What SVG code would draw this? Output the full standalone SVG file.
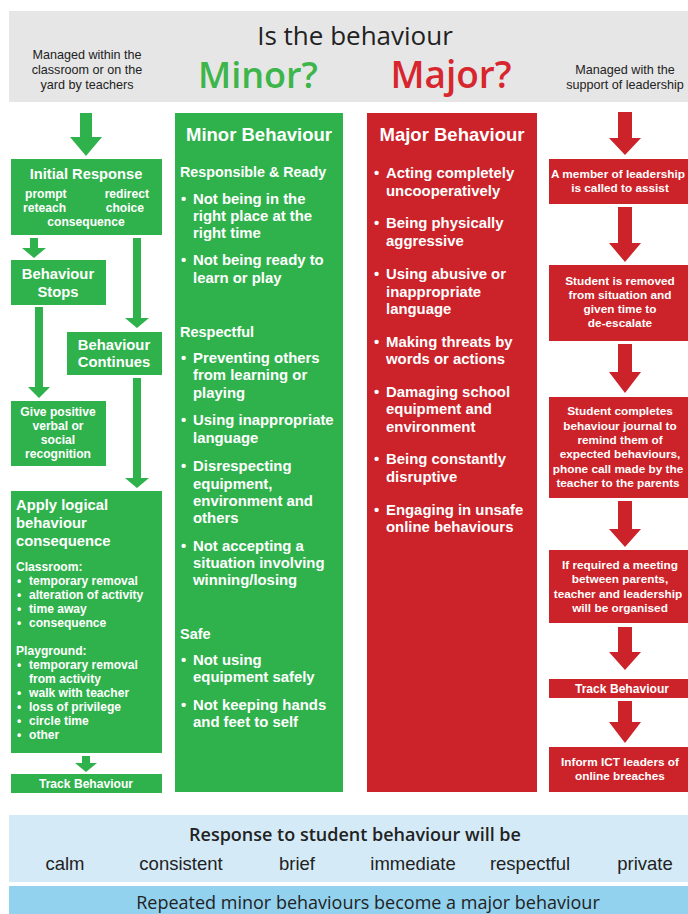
<svg xmlns="http://www.w3.org/2000/svg" width="688" height="914" viewBox="0 0 688 914">
<style>
text{font-family:"Liberation Sans",Arial,sans-serif;}
.os{font-family:"Open Sans","Noto Sans",sans-serif;}
.g{fill:#2fb24c;}
.r{fill:#cc2229;}
.w{fill:#ffffff;font-weight:700;}
.hd{font-size:14.8px;}
.sm{font-size:12.1px;}
.rs{font-size:11.8px;}
.li{font-size:14.9px;}
.c{text-anchor:middle;}
.dk{fill:#222222;}
</style>
<rect width="688" height="914" fill="#ffffff"/>
<g id="header">
<rect x="9" y="11" width="679" height="91" fill="#e6e6e6"/>
<text x="355" y="45" class="c dk os" font-size="26" font-weight="500">Is the behaviour</text>
<text x="258" y="88" class="c os" font-size="36" font-weight="600" fill="#3cb54a">Minor?</text>
<text x="451" y="88" class="c os" font-size="37" font-weight="600" fill="#d7262e">Major?</text>
<g font-size="12.6" class="c dk"><text x="87" y="59">Managed within the</text><text x="87" y="74">classroom or on the</text><text x="87" y="89">yard by teachers</text></g>
<g font-size="12.6" class="c dk"><text x="625" y="74">Managed with the</text><text x="625" y="89">support of leadership</text></g>
</g>
<g id="connectors">
<polygon class="g" points="80,113 92,113 92,137 102,137 86,156 70,137 80,137"/>
<polygon class="g" points="30,238 38,238 38,248 46,248 34,258 22,248 30,248"/>
<polygon class="g" points="133,238 141,238 141,318 149,318 137,328 125,318 133,318"/>
<polygon class="g" points="35,307 43,307 43,387 50,387 39,398 28,387 35,387"/>
<polygon class="g" points="133,378 141,378 141,478 149,478 137,488 125,478 133,478"/>
<polygon class="g" points="82,756 90,756 90,763 97,763 86,772 75,763 82,763"/>
<polygon class="r" points="618,112 632,112 632,138 641,138 625,155 609,138 618,138"/>
<polygon class="r" points="618,207 632,207 632,243 641,243 625,262 609,243 618,243"/>
<polygon class="r" points="618,344 632,344 632,372 641,372 625,393 609,372 618,372"/>
<polygon class="r" points="618,501 632,501 632,529 641,529 625,547 609,529 618,529"/>
<polygon class="r" points="618,627 632,627 632,652 641,652 625,670 609,652 618,652"/>
<polygon class="r" points="618,701 632,701 632,722 641,722 625,743 609,722 618,722"/>
</g>
<g id="initial-response">
<rect class="g" x="11" y="159" width="151" height="76"/>
<text class="w c" x="86" y="179" font-size="14.7">Initial Response</text>
<g class="w sm"><text x="25" y="198">prompt</text><text x="149" y="198" text-anchor="end">redirect</text><text x="23" y="212">reteach</text><text x="144" y="212" text-anchor="end">choice</text><text x="86" y="226" class="c">consequence</text></g>
</g>
<g id="behaviour-stops">
<rect class="g" x="11" y="260" width="95" height="45"/>
<text class="w c hd" x="58" y="279">Behaviour</text><text class="w c hd" x="58" y="297">Stops</text>
</g>
<g id="behaviour-continues">
<rect class="g" x="67" y="332" width="95" height="43"/>
<text class="w c hd" x="114" y="350">Behaviour</text><text class="w c hd" x="114" y="367">Continues</text>
</g>
<g id="positive-recognition">
<rect class="g" x="11" y="401" width="95" height="65"/>
<g class="w c sm"><text x="58" y="416">Give positive</text><text x="58" y="430">verbal or</text><text x="58" y="444">social</text><text x="58" y="458">recognition</text></g>
</g>
<g id="apply-consequence">
<rect class="g" x="11" y="491" width="151" height="262"/>
<g class="w" font-size="14.8"><text x="16" y="510">Apply logical</text><text x="16" y="528">behaviour</text><text x="16" y="546">consequence</text></g>
<g class="w sm">
<text x="16" y="571">Classroom:</text>
<text x="17" y="585">•</text><text x="29" y="585">temporary removal</text>
<text x="17" y="599">•</text><text x="29" y="599">alteration of activity</text>
<text x="17" y="613">•</text><text x="29" y="613">time away</text>
<text x="17" y="627">•</text><text x="29" y="627">consequence</text>
<text x="16" y="655">Playground:</text>
<text x="17" y="669">•</text><text x="29" y="669">temporary removal</text>
<text x="29" y="683">from activity</text>
<text x="17" y="697">•</text><text x="29" y="697">walk with teacher</text>
<text x="17" y="711">•</text><text x="29" y="711">loss of privilege</text>
<text x="17" y="725">•</text><text x="29" y="725">circle time</text>
<text x="17" y="739">•</text><text x="29" y="739">other</text>
</g>
</g>
<g id="track-left">
<rect class="g" x="11" y="774" width="151" height="19"/>
<text class="w c sm" x="86" y="788">Track Behaviour</text>
</g>
<g id="minor-behaviour">
<rect class="g" x="175" y="113" width="168" height="679"/>
<text class="w c" x="259" y="141" font-size="18.5">Minor Behaviour</text>
<g class="w">
<text x="180" y="177" font-size="14.3">Responsible &amp; Ready</text>
<g class="li">
<text x="181" y="204">•</text><text x="193" y="204">Not being in the</text><text x="193" y="221">right place at the</text><text x="193" y="238">right time</text>
<text x="181" y="265">•</text><text x="193" y="265">Not being ready to</text><text x="193" y="283">learn or play</text>
</g>
<text x="180" y="337" font-size="14.5">Respectful</text>
<g class="li">
<text x="181" y="363">•</text><text x="193" y="363">Preventing others</text><text x="193" y="380">from learning or</text><text x="193" y="398">playing</text>
<text x="181" y="425">•</text><text x="193" y="425">Using inappropriate</text><text x="193" y="443">language</text>
<text x="181" y="471">•</text><text x="193" y="471">Disrespecting</text><text x="193" y="489">equipment,</text><text x="193" y="506">environment and</text><text x="193" y="523">others</text>
<text x="181" y="551">•</text><text x="193" y="551">Not accepting a</text><text x="193" y="568">situation involving</text><text x="193" y="585">winning/losing</text>
</g>
<text x="180" y="639" font-size="14.5">Safe</text>
<g class="li">
<text x="181" y="665">•</text><text x="193" y="665">Not using</text><text x="193" y="682">equipment safely</text>
<text x="181" y="710">•</text><text x="193" y="710">Not keeping hands</text><text x="193" y="727">and feet to self</text>
</g>
</g>
</g>
<g id="major-behaviour">
<rect class="r" x="367" y="113" width="170" height="679"/>
<text class="w c" x="452" y="141" font-size="18.5">Major Behaviour</text>
<g class="w li">
<text x="374" y="178">•</text><text x="386" y="178">Acting completely</text><text x="386" y="196">uncooperatively</text>
<text x="374" y="228">•</text><text x="386" y="228">Being physically</text><text x="386" y="246">aggressive</text>
<text x="374" y="279">•</text><text x="386" y="279">Using abusive or</text><text x="386" y="297">inappropriate</text><text x="386" y="314">language</text>
<text x="374" y="347">•</text><text x="386" y="347">Making threats by</text><text x="386" y="364">words or actions</text>
<text x="374" y="397">•</text><text x="386" y="397">Damaging school</text><text x="386" y="414">equipment and</text><text x="386" y="432">environment</text>
<text x="374" y="464">•</text><text x="386" y="464">Being constantly</text><text x="386" y="482">disruptive</text>
<text x="374" y="515">•</text><text x="386" y="515">Engaging in unsafe</text><text x="386" y="532">online behaviours</text>
</g>
</g>
<g id="leadership-assist">
<rect class="r" x="549" y="159" width="139" height="45"/>
<g class="w c rs"><text x="618" y="178">A member of leadership</text><text x="620" y="192">is called to assist</text></g>
</g>
<g id="student-removed">
<rect class="r" x="549" y="265" width="139" height="76"/>
<g class="w c rs"><text x="620" y="285">Student is removed</text><text x="620" y="299">from situation and</text><text x="620" y="313">given time to</text><text x="620" y="327">de-escalate</text></g>
</g>
<g id="behaviour-journal">
<rect class="r" x="549" y="397" width="139" height="101"/>
<g class="w c rs"><text x="620" y="415">Student completes</text><text x="620" y="430">behaviour journal to</text><text x="620" y="444">remind them of</text><text x="620" y="458">expected behaviours,</text><text x="618" y="473">phone call made by the</text><text x="618" y="487">teacher to the parents</text></g>
</g>
<g id="meeting">
<rect class="r" x="549" y="550" width="139" height="73"/>
<g class="w c rs"><text x="620" y="569">If required a meeting</text><text x="620" y="583">between parents,</text><text x="618" y="598">teacher and leadership</text><text x="620" y="612">will be organised</text></g>
</g>
<g id="track-right">
<rect class="r" x="549" y="679" width="139" height="19"/>
<text class="w c sm" x="622" y="693">Track Behaviour</text>
</g>
<g id="inform-ict">
<rect class="r" x="549" y="747" width="139" height="45"/>
<g class="w c rs"><text x="620" y="766">Inform ICT leaders of</text><text x="620" y="780">online breaches</text></g>
</g>
<g id="footer">
<rect x="9" y="815" width="679" height="67" fill="#d4ebf7"/>
<text x="355" y="841" class="c dk os" font-size="18" font-weight="600">Response to student behaviour will be</text>
<g class="c dk os" font-size="18.5">
<text x="65" y="870">calm</text><text x="181" y="870">consistent</text><text x="297" y="870">brief</text><text x="413" y="870">immediate</text><text x="530" y="870">respectful</text><text x="645" y="870">private</text>
</g>
<rect x="9" y="886" width="679" height="28" fill="#92d2ef"/>
<text x="368" y="909" class="c dk os" font-size="18" font-weight="500">Repeated minor behaviours become a major behaviour</text>
</g>
</svg>
